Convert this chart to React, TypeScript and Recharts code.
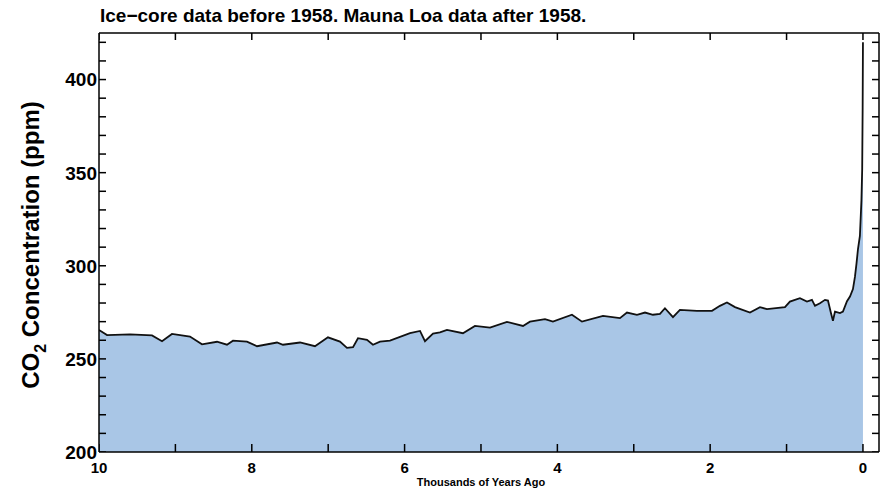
import { ComposedChart, Area, Line, Scatter, XAxis, YAxis } from 'recharts';

// thousands of years before present, left to right
const kyrAgo = [
  10.0, 9.895, 9.594, 9.306, 9.175, 9.045, 8.809, 8.652, 8.455, 8.325,
  8.246, 8.063, 7.932, 7.67, 7.592, 7.369, 7.173, 7.003, 6.846, 6.754,
  6.675, 6.61, 6.492, 6.414, 6.322, 6.191, 5.929, 5.798, 5.733, 5.628,
  5.537, 5.445, 5.236, 5.079, 4.882, 4.66, 4.45, 4.359, 4.162, 4.058,
  3.809, 3.678, 3.403, 3.181, 3.089, 2.958, 2.853, 2.749, 2.657, 2.592,
  2.487, 2.396, 2.173, 1.976, 1.872, 1.78, 1.675, 1.479, 1.348, 1.257,
  1.021, 0.956, 0.825, 0.733, 0.668, 0.628, 0.563, 0.497, 0.458, 0.419,
  0.393, 0.366, 0.301, 0.262, 0.209, 0.17, 0.131, 0.105, 0.085, 0.065,
  0.04, 0.02, 0.01, 0.004, 0.0,
];

const co2Ppm = [
  265.5, 262.8, 263.2, 262.6, 259.5, 263.4, 262.0, 257.8, 259.2, 257.6,
  259.8, 259.3, 256.8, 258.8, 257.6, 258.8, 256.8, 261.6, 259.3, 255.9,
  256.3, 261.1, 260.2, 257.6, 259.3, 259.8, 263.8, 265.0, 259.5, 263.6,
  264.2, 265.6, 263.8, 267.7, 266.8, 269.9, 267.7, 270.0, 271.3, 270.0,
  273.7, 270.0, 273.1, 271.9, 274.9, 273.7, 274.9, 273.7, 274.2, 277.2,
  272.4, 276.3, 275.8, 275.8, 278.5, 280.3, 277.8, 274.9, 277.8, 276.7,
  277.8, 280.8, 282.6, 280.8, 281.7, 278.5, 279.9, 281.7, 281.3, 274.6,
  270.5, 275.4, 274.6, 275.4, 281.0, 283.5, 287.5, 294.0, 301.0, 309.0,
  316.0, 335.0, 352.0, 385.0, 420.0,
];

const xTicks = [10, 9, 8, 7, 6, 5, 4, 3, 2, 1, 0];
const xLabels = [10, 8, 6, 4, 2, 0];
const yTicks = [200, 210, 220, 230, 240, 250, 260, 270, 280, 290, 300, 310, 320, 330, 340, 350, 360, 370, 380, 390, 400, 410, 420];
const yLabels = [200, 250, 300, 350, 400];

const X_MIN = -0.21;
const X_MAX = 10;
const Y_MIN = 200;
const Y_MAX = 425;

const data = kyrAgo.map((t, i) => ({ t, ppm: co2Ppm[i] }));

// frame tick marks, placed by the axes' scales at the edges of the domain
const leftMarks = yTicks.map((v) => ({ t: X_MAX, ppm: v }));
const rightMarks = yTicks.map((v) => ({ t: X_MIN, ppm: v }));
const bottomMarks = xTicks.map((t) => ({ t, ppm: Y_MIN }));
const topMarks = xTicks.map((t) => ({ t, ppm: Y_MAX }));

const FONT = 'Liberation Sans, Arial, sans-serif';
const NARROW = 'Liberation Sans Narrow, Liberation Sans, Arial, sans-serif';

const W = 887;
const H = 492;
const M = { top: 29, right: 4, bottom: 10, left: 39 };
const EDGE_L = M.left + 60;
const EDGE_T = M.top + 4;
const EDGE_B = H - M.bottom - 30;

const TICK = { stroke: '#000', strokeWidth: 1.5, fill: 'none' };

const LeftMark = (p: any) => <path d={`M${p.cx},${p.cy}H${p.cx + 7}`} {...TICK} />;
const RightMark = (p: any) => <path d={`M${p.cx},${p.cy}H${p.cx - 7}`} {...TICK} />;
const BottomMark = (p: any) => <path d={`M${p.cx},${p.cy}V${p.cy - 8}`} {...TICK} />;
const TopMark = (p: any) => <path d={`M${p.cx},${p.cy}V${p.cy + 7}`} {...TICK} />;

const BottomTick = (p: any) =>
  xLabels.includes(p.payload.value) ? (
    <text x={p.x} y={EDGE_B + 21} textAnchor="middle" fontFamily={NARROW} fontWeight="bold" fontSize={15} fill="#000">
      {p.payload.value}
    </text>
  ) : (
    <g />
  );

const LeftTick = (p: any) =>
  yLabels.includes(p.payload.value) ? (
    <text x={EDGE_L - 2} y={p.y} dy="0.36em" textAnchor="end" fontFamily={FONT} fontWeight="bold" fontSize={19} fill="#000">
      {p.payload.value}
    </text>
  ) : (
    <g />
  );

const NoTick = () => <g />;

const TitleLabel = () => (
  <text x={EDGE_L + 1} y={EDGE_T - 11} fontFamily={FONT} fontWeight="bold" fontSize={19} fill="#000">
    Ice−core data before 1958. Mauna Loa data after 1958.
  </text>
);

const YTitle = () => (
  <text transform="translate(39,245) rotate(-90)" textAnchor="middle" fontFamily={FONT} fontWeight="bold" fontSize={24} fill="#000">
    CO<tspan dy={7} fontSize={16}>2</tspan>
    <tspan dy={-7}> Concentration (ppm)</tspan>
  </text>
);

const XTitle = () => (
  <text x={481} y={486} textAnchor="middle" fontFamily={NARROW} fontWeight="bold" fontSize={11} fill="#000">
    Thousands of Years Ago
  </text>
);

export default function App() {
  return (
    <div style={{ position: 'absolute', left: 0, top: 0, width: W, height: H, background: '#fff' }}>
      <ComposedChart width={W} height={H} data={data} margin={M}>
        <Area
          xAxisId="b"
          yAxisId="l"
          dataKey="ppm"
          type="linear"
          stroke="#111"
          strokeWidth={1.8}
          fill="#a9c6e6"
          fillOpacity={1}
          isAnimationActive={false}
        />
        {/* same series on the top/right axes so their scales match the frame */}
        <Line xAxisId="t" yAxisId="r" dataKey="ppm" stroke="none" dot={false} isAnimationActive={false} />
        <Scatter xAxisId="b" yAxisId="l" data={leftMarks} dataKey="ppm" shape={LeftMark} isAnimationActive={false} />
        <Scatter xAxisId="b" yAxisId="l" data={rightMarks} dataKey="ppm" shape={RightMark} isAnimationActive={false} />
        <Scatter xAxisId="b" yAxisId="l" data={bottomMarks} dataKey="ppm" shape={BottomMark} isAnimationActive={false} />
        <Scatter xAxisId="b" yAxisId="l" data={topMarks} dataKey="ppm" shape={TopMark} isAnimationActive={false} />
        <XAxis xAxisId="b" dataKey="t" type="number" domain={[X_MIN, X_MAX]} reversed allowDataOverflow ticks={xTicks} interval={0}
          tickLine={false} tick={BottomTick} axisLine={{ stroke: '#000', strokeWidth: 1.5 }} height={30} label={XTitle} />
        <XAxis xAxisId="t" dataKey="t" type="number" orientation="top" domain={[X_MIN, X_MAX]} reversed allowDataOverflow ticks={xTicks} interval={0}
          tickLine={false} tick={NoTick} axisLine={{ stroke: '#000', strokeWidth: 1.5 }} height={4} label={TitleLabel} />
        <YAxis yAxisId="l" dataKey="ppm" type="number" domain={[Y_MIN, Y_MAX]} allowDataOverflow ticks={yTicks} interval={0}
          tickLine={false} tick={LeftTick} axisLine={{ stroke: '#000', strokeWidth: 1.5 }} width={60} label={YTitle} />
        <YAxis yAxisId="r" dataKey="ppm" orientation="right" type="number" domain={[Y_MIN, Y_MAX]} allowDataOverflow ticks={yTicks} interval={0}
          tickLine={false} tick={NoTick} axisLine={{ stroke: '#000', strokeWidth: 1.5 }} width={4} />
      </ComposedChart>
    </div>
  );
}
